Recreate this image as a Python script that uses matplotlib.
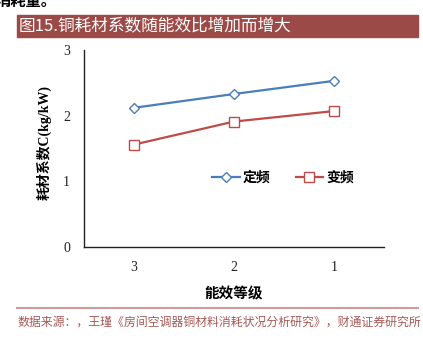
import matplotlib.pyplot as plt
from matplotlib.patches import Rectangle
from matplotlib.lines import Line2D

plt.rcParams['font.family'] = ['Liberation Serif', 'Noto Sans CJK SC', 'DejaVu Sans']

levels = ['3', '2', '1']
fixed_freq = [2.12, 2.33, 2.53]
var_freq = [1.56, 1.91, 2.07]
yticks = [0, 1, 2, 3]

W, H = 423, 340
fig = plt.figure(figsize=(W/100, H/100), dpi=100)

def fx(px): return px / W
def fy(py): return 1 - py / H

# top cut-off text from previous paragraph
fig.text(fx(-4), fy(1), '消耗量。', fontsize=11, fontweight='bold', va='center', ha='left',
         family=['Noto Sans CJK SC'])

# title bar
fig.patches.append(Rectangle((fx(17), fy(37)), fx(418)-fx(17), fy(15)-fy(37),
                             transform=fig.transFigure, color='#9C4A47', zorder=0))
fig.text(fx(19), fy(26), '图15.铜耗材系数随能效比增加而增大', color='white', fontsize=12,
         va='center', ha='left', family=['Noto Sans CJK SC'])

ax = fig.add_axes([fx(84), fy(247), fx(384)-fx(84), fy(50)-fy(247)])
x = range(len(levels))
ax.plot(x, fixed_freq, color='#4A7EBB', lw=1.6, marker='D', markersize=5,
        markerfacecolor='white', markeredgecolor='#4A7EBB', markeredgewidth=1.0, label='定频')
ax.plot(x, var_freq, color='#BE4B48', lw=1.6, marker='s', markersize=6.5,
        markerfacecolor='white', markeredgecolor='#BE4B48', markeredgewidth=1.0, label='变频')
ax.set_xlim(-0.5, 2.5)
ax.set_ylim(0, 3)
ax.set_yticks(yticks)
ax.set_xticks(list(x))
ax.set_xticklabels(levels)
ax.tick_params(length=0, labelsize=10, pad=10, labelcolor='#222222')
ax.tick_params(axis='y', pad=10)
for s in ['top', 'right']:
    ax.spines[s].set_visible(False)
for s in ['left', 'bottom']:
    ax.spines[s].set_color('#222222')
    ax.spines[s].set_linewidth(1.0)

ax.set_ylabel('耗材系数C(kg/kW)', fontsize=10, fontweight='bold',
              family=['Liberation Serif', 'Noto Sans CJK SC'])
ax.yaxis.set_label_coords((52 - 84) / 300, (247 - 143) / 197)
ax.set_xlabel('能效等级', fontsize=10.5, fontweight='bold', labelpad=8,
              family=['Noto Sans CJK SC'])

ax.legend(loc='center', bbox_to_anchor=((283 - 84) / 300, (247 - 178) / 197), ncol=2,
          frameon=False, handlelength=2.0, handletextpad=0.2, columnspacing=1.8,
          prop={'family': ['Noto Sans CJK SC'], 'weight': 'bold', 'size': 10})

# separator and source
fig.add_artist(Line2D([fx(17), fx(418)], [fy(308), fy(308)], color='#D29A98', lw=1.5))
fig.text(fx(17), fy(322), '数据来源：，王瑾《房间空调器铜材料消耗状况分析研究》，财通证券研究所',
         color='#A85855', fontsize=8.6, va='center', ha='left', family=['Noto Sans CJK SC'])

fig.savefig('out.png', dpi=100, facecolor='white')
